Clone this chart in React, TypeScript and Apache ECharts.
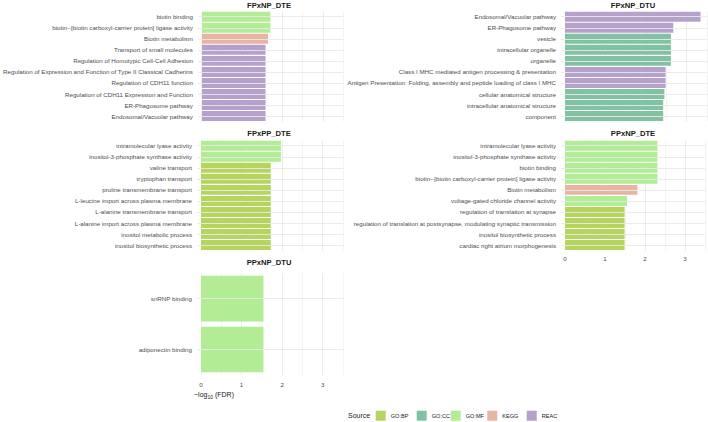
import React, { useEffect, useRef } from "react";
import * as echarts from "echarts";

const FONT = "'Liberation Sans', Arial, sans-serif";

const sourceNames = ["GO:BP", "GO:CC", "GO:MF", "KEGG", "REAC"];
const sourceColors = ["#b5d55e", "#80c2a2", "#b2ec95", "#e8b4a3", "#b6a0cc"];

const panelTitles = ["FPxNP_DTE", "FPxNP_DTU", "FPxPP_DTE", "PPxNP_DTE", "PPxNP_DTU"];

const termsFPxNP_DTE = [
  "biotin binding",
  "biotin--[biotin carboxyl-carrier protein] ligase activity",
  "Biotin metabolism",
  "Transport of small molecules",
  "Regulation of Homotypic Cell-Cell Adhesion",
  "Regulation of Expression and Function of Type II Classical Cadherins",
  "Regulation of CDH11 function",
  "Regulation of CDH11 Expression and Function",
  "ER-Phagosome pathway",
  "Endosomal/Vacuolar pathway",
];
const valuesFPxNP_DTE = [1.7, 1.7, 1.64, 1.58, 1.58, 1.58, 1.58, 1.58, 1.58, 1.58];
const sourcesFPxNP_DTE = ["GO:MF", "GO:MF", "KEGG", "REAC", "REAC", "REAC", "REAC", "REAC", "REAC", "REAC"];

const termsFPxNP_DTU = [
  "Endosomal/Vacuolar pathway",
  "ER-Phagosome pathway",
  "vesicle",
  "intracellular organelle",
  "organelle",
  "Class I MHC mediated antigen processing & presentation",
  "Antigen Presentation: Folding, assembly and peptide loading of class I MHC",
  "cellular anatomical structure",
  "intracellular anatomical structure",
  "component",
];
const valuesFPxNP_DTU = [3.34, 2.67, 2.61, 2.61, 2.61, 2.48, 2.48, 2.45, 2.42, 2.42];
const sourcesFPxNP_DTU = ["REAC", "REAC", "GO:CC", "GO:CC", "GO:CC", "REAC", "REAC", "GO:CC", "GO:CC", "GO:CC"];

const termsFPxPP_DTE = [
  "intramolecular lyase activity",
  "inositol-3-phosphate synthase activity",
  "valine transport",
  "tryptophan transport",
  "proline transmembrane transport",
  "L-leucine import across plasma membrane",
  "L-alanine transmembrane transport",
  "L-alanine import across plasma membrane",
  "inositol metabolic process",
  "inositol biosynthetic process",
];
const valuesFPxPP_DTE = [1.97, 1.97, 1.72, 1.72, 1.72, 1.72, 1.72, 1.72, 1.72, 1.72];
const sourcesFPxPP_DTE = ["GO:MF", "GO:MF", "GO:BP", "GO:BP", "GO:BP", "GO:BP", "GO:BP", "GO:BP", "GO:BP", "GO:BP"];

const termsPPxNP_DTE = [
  "intramolecular lyase activity",
  "inositol-3-phosphate synthase activity",
  "biotin binding",
  "biotin--[biotin carboxyl-carrier protein] ligase activity",
  "Biotin metabolism",
  "voltage-gated chloride channel activity",
  "regulation of translation at synapse",
  "regulation of translation at postsynapse, modulating synaptic transmission",
  "inositol biosynthetic process",
  "cardiac right atrium morphogenesis",
];
const valuesPPxNP_DTE = [2.31, 2.31, 2.31, 2.31, 1.81, 1.55, 1.49, 1.49, 1.49, 1.49];
const sourcesPPxNP_DTE = ["GO:MF", "GO:MF", "GO:MF", "GO:MF", "KEGG", "GO:MF", "GO:BP", "GO:BP", "GO:BP", "GO:BP"];

const termsPPxNP_DTU = ["snRNP binding", "adiponectin binding"];
const valuesPPxNP_DTU = [1.54, 1.54];
const sourcesPPxNP_DTU = ["GO:MF", "GO:MF"];

const xTicks = [0, 1, 2, 3];

const panelTerms = [termsFPxNP_DTE, termsFPxNP_DTU, termsFPxPP_DTE, termsPPxNP_DTE, termsPPxNP_DTU];
const panelValues = [valuesFPxNP_DTE, valuesFPxNP_DTU, valuesFPxPP_DTE, valuesPPxNP_DTE, valuesPPxNP_DTU];
const panelSources = [sourcesFPxNP_DTE, sourcesFPxNP_DTU, sourcesFPxPP_DTE, sourcesPPxNP_DTE, sourcesPPxNP_DTU];

// panel boxes in pixels: left, top, width, height
const panelBoxes = [
  { left: 201, top: 11.2, width: 142, height: 110.4 },
  { left: 565, top: 11.2, width: 142, height: 110.4 },
  { left: 201, top: 140.2, width: 142, height: 110.4 },
  { left: 565, top: 140.2, width: 142, height: 110.4 },
  { left: 201, top: 273.3, width: 142, height: 101.6 },
];
const titleSpots = [
  { x: 269, y: 5 },
  { x: 633, y: 5 },
  { x: 269, y: 133 },
  { x: 633, y: 133 },
  { x: 269, y: 262 },
];
const showXLabels = [false, false, false, true, true];
const xLabelMargins = [5, 5, 5, 5, 7];
// left edge of each legend key
const legendKeyLefts = [375.7, 416.7, 450.7, 487.3, 526.7];

export default function App() {
  const ref = useRef<HTMLDivElement>(null);

  useEffect(() => {
    if (!ref.current) return;
    const chart = echarts.init(ref.current, null, { renderer: "svg" });

    const grids = panelBoxes.map((b) => ({ ...b, containLabel: false }));

    const xAxes = panelBoxes.map((_, i) => ({
      type: "value",
      gridIndex: i,
      min: 0,
      max: 3.5,
      interval: 0.5,
      axisLine: { show: false },
      axisTick: { show: false },
      splitLine: {
        show: true,
        lineStyle: { color: ["#e9e9e9", "#f3f3f3"], width: 0.9 },
      },
      axisLabel: {
        show: showXLabels[i],
        fontFamily: FONT,
        fontSize: 6.2,
        color: "#4d4d4d",
        margin: xLabelMargins[i],
        formatter: (v: number) => (xTicks.includes(v) ? String(v) : ""),
      },
    }));

    const yAxes = panelTerms.map((terms, i) => ({
      type: "category",
      gridIndex: i,
      inverse: true,
      data: terms,
      axisLine: { show: false },
      axisTick: {
        show: true,
        alignWithLabel: true,
        length: 4,
        lineStyle: { color: "#e9e9e9", width: 0.9 },
      },
      splitLine: { show: false },
      axisLabel: {
        fontFamily: FONT,
        fontSize: 6.2,
        color: "#4d4d4d",
        margin: 9,
      },
    }));

    const series: any[] = [];
    panelTerms.forEach((terms, p) => {
      // horizontal grid lines through each category centre
      series.push({
        type: "line",
        xAxisIndex: p,
        yAxisIndex: p,
        data: [],
        silent: true,
        z: 1,
        markLine: {
          silent: true,
          symbol: ["none", "none"],
          label: { show: false },
          lineStyle: { color: "#e9e9e9", width: 0.9, type: "solid" },
          data: terms.map((t) => ({ yAxis: t })),
        },
      });
      sourceNames.forEach((s, k) => {
        if (!panelSources[p].includes(s)) return;
        series.push({
          type: "bar",
          name: s,
          xAxisIndex: p,
          yAxisIndex: p,
          stack: "panel" + p,
          barCategoryGap: "10%",
          z: 2,
          itemStyle: { color: sourceColors[k] },
          data: panelValues[p].map((v, i) => (panelSources[p][i] === s ? v : "-")),
        });
      });
    });

    const titleTexts = panelTitles.map((t, i) => ({
      type: "text",
      x: titleSpots[i].x,
      y: titleSpots[i].y,
      style: {
        text: t,
        fontFamily: FONT,
        fontSize: 7.6,
        fontWeight: "bold",
        fill: "#1a1a1a",
        align: "center",
        verticalAlign: "middle",
      },
    }));

    const legends = sourceNames.map((s, k) => ({
      data: [s],
      left: legendKeyLefts[k],
      top: 410.7,
      padding: 0,
      itemWidth: 10,
      itemHeight: 10,
      icon: "rect",
      selectedMode: false,
      textStyle: { fontFamily: FONT, fontSize: 5.6, color: "#1a1a1a", lineHeight: 10 },
    }));

    chart.setOption({
      animation: false,
      backgroundColor: "#ffffff",
      grid: grids,
      xAxis: xAxes,
      yAxis: yAxes,
      series,
      legend: legends,
      graphic: [
        ...titleTexts,
        {
          type: "text",
          x: 194,
          y: 394.5,
          style: {
            text: "{a|−log}{b|10}{a| (FDR)}",
            fontFamily: FONT,
            fill: "#1a1a1a",
            verticalAlign: "middle",
            rich: {
              a: { fontFamily: FONT, fontSize: 7, fill: "#1a1a1a" },
              b: { fontFamily: FONT, fontSize: 5, fill: "#1a1a1a", padding: [4, 0, 0, 0] },
            },
          },
        },
        {
          type: "text",
          x: 348,
          y: 415.7,
          style: {
            text: "Source",
            fontFamily: FONT,
            fontSize: 7,
            fill: "#1a1a1a",
            verticalAlign: "middle",
          },
        },
      ],
    });

    return () => chart.dispose();
  }, []);

  return (
    <div
      ref={ref}
      style={{ position: "fixed", left: 0, top: 0, width: 708, height: 422, background: "#fff" }}
    />
  );
}
